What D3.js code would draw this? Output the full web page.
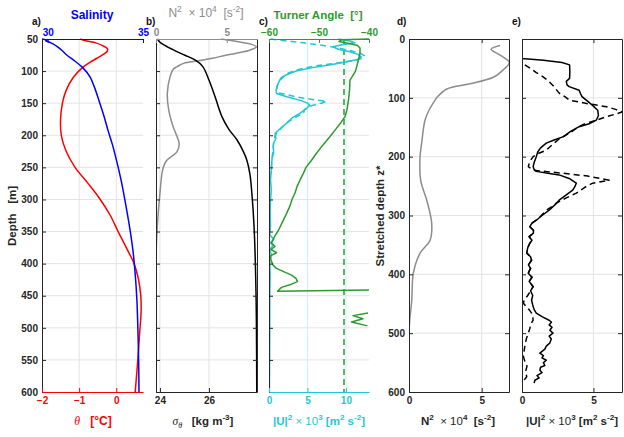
<!DOCTYPE html>
<html lang="en">
<head>
<meta charset="UTF-8">
<title>Profiles</title>
<script src="https://d3js.org/d3.v7.min.js"></script>
<style>
  body { margin: 0; background: #fff; }
  svg text { font-family: "Liberation Sans", Arial, sans-serif; white-space: pre; }
</style>
</head>
<body>
<svg id="chart" width="624" height="437"></svg>
<script>
// ---- data (depth in m, or stretched depth z*) ----
const depthTicks = [50,100,150,200,250,300,350,400,450,500,550,600];
const zTicks = [0,100,200,300,400,500,600];

// panel a: potential temperature [°C] and salinity
const theta = [[50,-0.97],[53,-0.8],[56,-0.55],[60,-0.38],[65,-0.24],[69,-0.24],[74,-0.35],[80,-0.52],[86,-0.7],[95,-0.92],[110,-1.16],[130,-1.35],[150,-1.45],[175,-1.5],[200,-1.48],[225,-1.35],[250,-1.11],[275,-0.76],[300,-0.43],[325,-0.16],[350,0.05],[375,0.27],[400,0.48],[425,0.6],[450,0.66],[475,0.67],[500,0.64],[550,0.58],[600,0.51]];
const salinity = [[50,29.7],[52,29.98],[53,29.9],[55,30.1],[58,30.3],[62,30.5],[68,30.75],[75,31.0],[85,31.45],[95,31.85],[109,32.22],[125,32.45],[145,32.68],[170,32.95],[192,33.16],[215,33.4],[238,33.6],[270,33.85],[301,34.05],[340,34.28],[379,34.47],[420,34.6],[457,34.68],[500,34.73],[550,34.77],[600,34.79]];

// panel b: N2 x 1e4 and sigma_theta
const n2Depth = [[50,4.6],[52,5.2],[55,6.0],[58,6.7],[62,7.1],[66,6.8],[70,6.2],[75,5.0],[80,4.0],[84,3.0],[88,1.95],[93,1.5],[97,1.22],[109,0.99],[135,0.8],[161,0.9],[187,1.22],[200,1.45],[213,1.64],[226,1.48],[233,1.1],[240,0.72],[254,0.47],[290,0.28],[342,0.09],[394,0.0],[600,0.0]];
const sigma = [[50,23.9],[55,24.0],[60,24.2],[67,24.55],[75,25.0],[83,25.45],[93,25.75],[114,26.0],[140,26.25],[171,26.53],[190,26.8],[207,27.14],[225,27.4],[238,27.54],[260,27.67],[290,27.75],[342,27.84],[446,27.92],[600,27.95]];

// panel c: Turner angle [°] and |U|^2 x 1e3
const turner = [[50,-40.0],[51,-45.5],[54,-46],[57,-44],[60,-42.3],[64,-41.8],[72,-41.8],[85,-42.2],[100,-42.7],[114,-43.8],[130,-43.9],[145,-44.1],[160,-44.4],[171,-44.8],[180,-45.6],[190,-46.6],[202,-47.8],[215,-49.2],[228,-50.5],[240,-51.6],[250,-52.6],[259,-53.1],[270,-53.8],[280,-54.4],[290,-54.8],[300,-55.4],[310,-55.8],[322,-56.5],[335,-57.3],[348,-58.1],[358,-58.9],[368,-59.5],[373,-58.8],[378,-59.6],[383,-58.5],[388,-59.7],[395,-59.6],[402,-59.2],[407,-58.6],[412,-57.2],[418,-55.5],[423,-54.6],[428,-54.3],[432,-55.5],[437,-57.5],[443,-58.3],[441,-40]];
const turnerDeep = [[477,-40.2],[481,-43.2],[486,-41.2],[491,-43.5],[497,-40.3]];
const turnerThreshold = -45;
const u2Solid = [[50,9.0],[53,10.5],[56,11.2],[59,9.5],[62,8.3],[66,9.0],[70,10.5],[74,11.6],[78,12.0],[82,11.5],[86,10.0],[90,8.0],[95,5.5],[100,3.5],[106,2.2],[114,1.4],[122,1.1],[130,0.9],[135,1.0],[140,2.3],[146,4.2],[150,5.0],[153,5.3],[158,4.9],[166,4.0],[173,3.0],[181,2.3],[189,1.5],[197,0.8],[205,0.9],[212,0.6],[218,0.56],[228,0.6],[236,0.4],[244,0.35],[255,0.3],[270,0.2],[285,0.3],[300,0.2],[320,0.15],[340,0.2],[355,0.1],[362,0.6],[367,0.2],[372,0.5],[378,0.1],[386,0.3],[395,0.1],[420,0.15],[450,0.1],[500,0.1],[550,0.08],[600,0.05]];
const u2Dashed = [[50,0.2],[52,1.5],[54,3.0],[56,4.5],[58,5.8],[61,7.5],[64,9.0],[68,10.5],[72,11.8],[76,12.4],[80,12.2],[84,10.8],[88,8.5],[92,6.0],[97,4.0],[103,2.5],[110,1.6],[118,1.2],[126,1.0],[134,1.3],[140,3.5],[144,5.5],[147,7.5],[150,6.8],[154,5.5],[160,4.6],[166,4.5],[172,3.4],[180,2.4],[190,1.5],[200,0.8],[212,0.6],[225,0.5],[240,0.35],[260,0.3]];

// panel d: N2 x 1e4 vs stretched depth
const n2Stretched = [[11,6.26],[17.5,5.64],[28,6.3],[40,6.9],[52,6.5],[65,5.8],[76,4.2],[85,2.6],[100,1.9],[104,1.79],[120,1.4],[138,1.1],[177,0.87],[200,0.76],[240,0.8],[274,1.22],[313,1.56],[342,1.45],[364,0.76],[398,0.3],[444,0.19],[489,0.02],[600,0.0]];

// panel e: |U|^2 x 1e3 vs stretched depth
const u2zSolid = [[0,0],[33,0],[36,1.5],[40,2.8],[44,3.33],[55,3.35],[67,3.33],[72,3.1],[78,3.15],[81,3.3],[87,4.0],[93,4.1],[98,4.2],[104,4.5],[112,4.9],[121,5.3],[130,5.35],[138,5.2],[144,4.7],[149,4.0],[157,3.4],[166,2.9],[172,2.2],[177,1.7],[185,1.3],[192,1.1],[200,1.0],[210,0.85],[217,0.78],[222,0.85],[225,1.0],[228,1.8],[231,2.6],[237,3.3],[245,3.8],[251,3.7],[257,3.55],[265,3.1],[274,2.6],[282,2.3],[291,1.9],[300,1.4],[308,1.0],[313,0.7],[319,0.55],[325,0.8],[330,0.8],[336,0.5],[342,0.7],[347,0.55],[355,0.4],[364,0.33],[370,0.6],[376,0.67],[384,0.45],[390,0.6],[398,0.44],[405,0.7],[412,0.5],[421,0.78],[428,0.6],[436,0.75],[444,0.67],[452,0.75],[460,0.85],[466,1.0],[472,1.4],[478,1.9],[481,2.06],[486,1.9],[490,2.1],[495,1.95],[500,2.17],[505,1.9],[510,2.05],[517,1.94],[522,1.7],[527,1.6],[534,1.25],[538,1.5],[542,1.4],[546,1.7],[550,1.5],[555,1.6],[558,1.3],[563,1.25],[567,1.4],[572,1.05],[576,1.2],[580,0.9],[585,0.85]];
const u2zDashed = [[44,0.2],[50,0.6],[57,1.0],[63,1.4],[70,1.8],[80,2.2],[92,2.6],[98,3.0],[104,3.33],[110,4.6],[115,5.9],[120,6.6],[124,7.0],[128,6.5],[132,5.9],[138,5.2],[143,4.5],[150,3.9],[160,3.33],[170,2.6],[180,2.1],[189,1.7],[195,1.1],[200,0.78],[208,0.55],[217,0.44],[223,0.78],[228,2.8],[233,4.6],[240,6.1],[245,4.95],[252,4.4],[262,3.8],[270,3.1],[279,2.4],[285,2.1],[291,1.7],[300,1.35],[308,1.0],[313,0.7],[319,0.55],[325,0.8],[330,0.8],[336,0.5],[342,0.7],[347,0.55],[355,0.4],[364,0.33],[370,0.6],[376,0.67],[384,0.45],[390,0.6],[398,0.44],[405,0.7],[412,0.5],[421,0.78],[428,0.6],[436,0.4],[444,0.15],[449,0.1],[455,0.3],[460,0.5],[466,0.67],[472,0.75],[478,0.78],[485,0.6],[492,0.55],[500,0.44],[510,0.3],[522,0.2],[530,0.15],[540,0.1],[548,0.2],[556,0.35],[565,0.25],[574,0.33],[580,0.14]];

// ---- layout ----
const FONT = '"Liberation Sans", Arial, sans-serif';
const RED = "#ff0000", BLUE = "#0000ff", GRAY = "#8c8c8c", GREEN = "#2e9a2e", CYAN = "#1fc8d4", DARK = "#262626", GRID = "#e3e3e3";
const yTop = 39, yBot = 392;
const svg = d3.select("#chart");
const fmt = d3.format("d");

const yD = d3.scaleLinear().domain([50, 600]).range([yTop, yBot]);
const yZ = d3.scaleLinear().domain([0, 600]).range([yTop, yBot]);

const xT = d3.scaleLinear().domain([-2, 0.72]).range([42, 143]);
const xS = d3.scaleLinear().domain([29.7, 35]).range([42, 143]);
const xN2b = d3.scaleLinear().domain([0, 7.14]).range([156, 257]);
const xSig = d3.scaleLinear().domain([23.84, 27.96]).range([156, 257]);
const xTu = d3.scaleLinear().domain([-60, -40]).range([269, 369]);
const xU2c = d3.scaleLinear().domain([0, 13]).range([269, 369]);
const xN2d = d3.scaleLinear().domain([0, 6.88]).range([409, 509]);
const xU2e = d3.scaleLinear().domain([0, 7]).range([522, 622]);

const defs = svg.append("defs");
function clip(id, x0, x1) {
  defs.append("clipPath").attr("id", id).append("rect")
    .attr("x", x0).attr("y", yTop - 1).attr("width", x1 - x0 + 1).attr("height", yBot - yTop + 2);
  return `url(#${id})`;
}

function hGrid(x0, x1, y, vals) {
  svg.append("g").selectAll("line").data(vals).join("line")
    .attr("x1", x0).attr("x2", x1).attr("y1", d => y(d)).attr("y2", d => y(d))
    .attr("stroke", GRID).attr("stroke-width", 1);
}
function vGrid(x, vals, color) {
  svg.append("g").selectAll("line").data(vals).join("line")
    .attr("x1", d => x(d)).attr("x2", d => x(d)).attr("y1", yTop).attr("y2", yBot)
    .attr("stroke", color || GRID).attr("stroke-width", 1);
}
function drawLine(data, x, y, color, opts = {}) {
  const line = d3.line().x(d => x(d[1])).y(d => y(d[0]))
    .curve(opts.smooth ? d3.curveCatmullRom.alpha(0.5) : d3.curveLinear);
  svg.append("path").datum(data)
    .attr("fill", "none").attr("stroke", color).attr("stroke-width", opts.w || 1.5)
    .attr("stroke-dasharray", opts.dash ? "6,4" : null)
    .attr("stroke-linejoin", "round")
    .attr("clip-path", opts.clip || null)
    .attr("d", line);
}
function axis(gen, tx, ty, color, labels = true) {
  const g = svg.append("g").attr("transform", `translate(${tx},${ty})`)
    .attr("font-family", FONT).attr("font-size", 10).attr("font-weight", "bold")
    .call(gen.tickSizeOuter(0).tickFormat(fmt));
  g.select(".domain").attr("stroke", color).attr("stroke-width", 1);
  g.selectAll(".tick line").attr("stroke", color);
  g.selectAll(".tick text").attr("fill", color);
  if (!labels) g.selectAll(".tick text").remove();
  return g;
}
function richText(x, y, parts, o = {}) {
  const size = o.size || 11;
  const t = svg.append("text").attr("x", x).attr("y", y)
    .attr("text-anchor", o.anchor || "middle").attr("font-size", size)
    .attr("font-weight", o.weight || "bold").attr("fill", o.color || DARK)
    .attr("transform", o.rotate ? `rotate(-90,${x},${y})` : null);
  let shift = 0;
  parts.forEach(p => {
    const s = t.append("tspan").text(p.t);
    const want = p.sup ? -0.4 * size : p.sub ? 0.25 * size : 0;
    if (want !== shift) { s.attr("dy", want - shift); shift = want; }
    if (p.sup || p.sub) s.attr("font-size", size * 0.7);
    if (p.it) s.attr("font-style", "italic").attr("font-family", '"Liberation Serif", serif').attr("font-weight", "normal");
    if (p.normal) s.attr("font-weight", "normal");
  });
  return t;
}

// ---------- panel a ----------
hGrid(42, 143, yD, depthTicks.slice(1, -1));
vGrid(xT, [-1, 0]);
const ca = clip("ca", 42, 143);
drawLine(theta, xT, yD, RED, { smooth: true, clip: ca });
drawLine(salinity, xS, yD, BLUE, { smooth: true, clip: ca });
axis(d3.axisLeft(yD).tickValues(depthTicks).tickSize(-4).tickPadding(4), 42, 0, DARK);
axis(d3.axisBottom(xT).tickValues([-2, -1, 0]).tickSize(-4).tickPadding(5), 0, yBot, RED);
axis(d3.axisTop(xS).tickValues([30, 35]).tickSize(-4).tickPadding(3), 0, yTop, BLUE);

// ---------- panel b ----------
hGrid(156, 257, yD, depthTicks.slice(1, -1));
vGrid(xSig, [24, 26]);
const cb = clip("cb", 156, 257);
drawLine(n2Depth, xN2b, yD, GRAY, { smooth: true, clip: cb });
drawLine(sigma, xSig, yD, "#000", { smooth: true, clip: cb });
axis(d3.axisLeft(yD).tickValues(depthTicks).tickSize(-4), 156, 0, DARK, false);
axis(d3.axisRight(yD).tickValues(depthTicks).tickSize(-4), 257, 0, DARK, false);
axis(d3.axisBottom(xSig).tickValues([24, 26]).tickSize(-4).tickPadding(5), 0, yBot, DARK);
axis(d3.axisTop(xN2b).tickValues([0, 5]).tickSize(-4).tickPadding(3), 0, yTop, GRAY);

// ---------- panel c ----------
hGrid(269, 369, yD, depthTicks.slice(1, -1));
vGrid(xU2c, [5, 10], "#c9f0f3");
const cc = clip("cc", 269, 369);
svg.append("line").attr("x1", xTu(turnerThreshold)).attr("x2", xTu(turnerThreshold))
  .attr("y1", yD(50)).attr("y2", yD(600)).attr("stroke", GREEN).attr("stroke-width", 1.5)
  .attr("stroke-dasharray", "6,4");
drawLine(u2Dashed, xU2c, yD, CYAN, { dash: true, clip: cc });
drawLine(u2Solid, xU2c, yD, CYAN, { clip: cc });
drawLine(turner, xTu, yD, GREEN, { clip: cc });
drawLine(turnerDeep, xTu, yD, GREEN, { clip: cc });
axis(d3.axisLeft(yD).tickValues(depthTicks).tickSize(-4), 269, 0, DARK, false);
axis(d3.axisBottom(xU2c).tickValues([0, 5, 10]).tickSize(-4).tickPadding(5), 0, yBot, CYAN);
axis(d3.axisTop(xTu).tickValues([-60, -50, -40]).tickSize(-4).tickPadding(3), 0, yTop, GREEN);

// ---------- panel d ----------
hGrid(409, 509, yZ, zTicks.slice(1, -1));
vGrid(xN2d, [5]);
drawLine(n2Stretched, xN2d, yZ, GRAY, { smooth: true, clip: clip("cd", 409, 509) });
axis(d3.axisLeft(yZ).tickValues(zTicks).tickSize(-4).tickPadding(4), 409, 0, DARK);
axis(d3.axisRight(yZ).tickValues(zTicks).tickSize(-4), 509, 0, DARK, false);
axis(d3.axisBottom(xN2d).tickValues([0, 5]).tickSize(-4).tickPadding(5), 0, yBot, DARK);
axis(d3.axisTop(xN2d).tickValues([0, 5]).tickSize(-4), 0, yTop, DARK, false);

// ---------- panel e ----------
hGrid(522, 622, yZ, zTicks.slice(1, -1));
vGrid(xU2e, [5]);
const ce = clip("ce", 522, 622);
drawLine(u2zDashed, xU2e, yZ, "#000", { dash: true, clip: ce });
drawLine(u2zSolid, xU2e, yZ, "#000", { clip: ce });
axis(d3.axisLeft(yZ).tickValues(zTicks).tickSize(-4), 522, 0, DARK, false);
axis(d3.axisRight(yZ).tickValues(zTicks).tickSize(-4), 622, 0, DARK, false);
axis(d3.axisBottom(xU2e).tickValues([0, 5]).tickSize(-4).tickPadding(5), 0, yBot, DARK);
axis(d3.axisTop(xU2e).tickValues([0, 5]).tickSize(-4), 0, yTop, DARK, false);

// ---------- titles and labels ----------
richText(92, 19, [{ t: "Salinity" }], { color: BLUE, size: 12 });
richText(206, 17, [{ t: "N" }, { t: "2", sup: true }, { t: "  × 10", normal: true }, { t: "4", sup: true, normal: true }, { t: "  [s", normal: true }, { t: "-2", sup: true, normal: true }, { t: "]", normal: true }], { color: GRAY, size: 12, weight: "normal" });
richText(318, 19, [{ t: "Turner Angle  [°]" }], { color: GREEN, size: 11.5 });

[["a)", 32, 25], ["b)", 146, 25], ["c)", 259, 25], ["d)", 397, 25], ["e)", 512, 25]].forEach(([s, x, y]) =>
  svg.append("text").attr("x", x).attr("y", y).attr("font-size", 10).attr("font-weight", "bold").attr("fill", "#111").text(s));

richText(93, 425, [{ t: "θ", it: true }, { t: "   [°C]" }], { color: RED, size: 12 });
richText(203, 425, [{ t: "σ", it: true }, { t: "θ", it: true, sub: true }, { t: "   [kg m" }, { t: "-3", sup: true }, { t: "]" }], { color: DARK, size: 11.5 });
richText(319, 425, [{ t: "|U|" }, { t: "2", sup: true }, { t: " × 10", normal: true }, { t: "3", sup: true }, { t: " [m" }, { t: "2", sup: true }, { t: " s" }, { t: "-2", sup: true }, { t: "]" }], { color: CYAN, size: 11.5 });
richText(458, 425, [{ t: "N" }, { t: "2", sup: true }, { t: "  × 10", normal: true }, { t: "4", sup: true }, { t: "  [s" }, { t: "-2", sup: true }, { t: "]" }], { color: DARK, size: 11.5 });
richText(572, 425, [{ t: "|U|" }, { t: "2", sup: true }, { t: " × 10", normal: true }, { t: "3", sup: true }, { t: " [m" }, { t: "2", sup: true }, { t: " s" }, { t: "-2", sup: true }, { t: "]" }], { color: DARK, size: 11.5 });

richText(16, 216, [{ t: "Depth   [m]" }], { color: DARK, size: 11.5, rotate: true });
richText(384, 216, [{ t: "Stretched depth z*" }], { color: DARK, size: 11.5, rotate: true });
</script>
</body>
</html>
